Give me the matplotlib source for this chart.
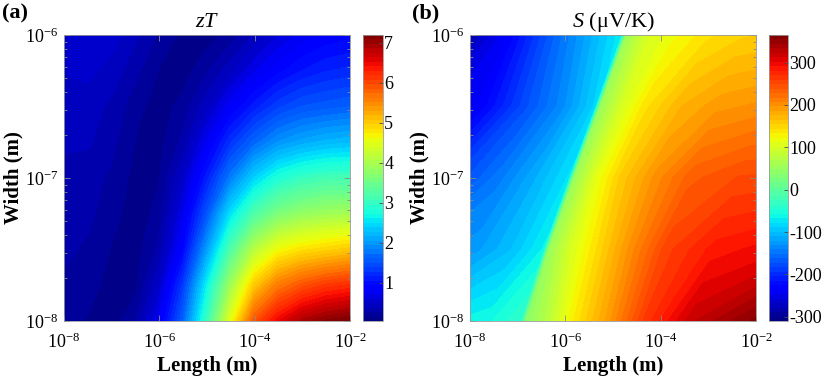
import numpy as np
import matplotlib
matplotlib.use('Agg')
import matplotlib.pyplot as plt
from matplotlib.ticker import FixedLocator, FuncFormatter

plt.rcParams['font.family'] = 'Liberation Serif'
plt.rcParams['mathtext.fontset'] = 'custom'
plt.rcParams['mathtext.rm'] = 'Liberation Serif'
plt.rcParams['mathtext.it'] = 'Liberation Serif:italic'
plt.rcParams['mathtext.bf'] = 'Liberation Serif:bold'
plt.rcParams['axes.unicode_minus'] = False

# ---- panel (a): zT (log10 of length / width in m) ----
zt_logL = [-8, -7.5, -7, -6.5, -6, -5.5, -5, -4.5, -4, -3.5, -3, -2.5, -2]
zt_logW = [-8, -7.75, -7.5, -7.25, -7, -6.75, -6.5, -6.25, -6]
zt_vals = [
    [0.20, 0.15, 0.10, 0.25, 0.75, 1.60, 3.00, 4.50, 5.90, 6.50, 6.90, 7.10, 7.20],
    [0.25, 0.20, 0.12, 0.12, 0.50, 1.30, 2.60, 3.90, 5.00, 5.60, 5.90, 6.10, 6.20],
    [0.30, 0.25, 0.15, 0.10, 0.30, 0.90, 2.00, 3.20, 4.10, 4.60, 4.80, 4.90, 5.00],
    [0.33, 0.30, 0.20, 0.10, 0.20, 0.70, 1.50, 2.50, 3.20, 3.60, 3.80, 3.90, 3.95],
    [0.35, 0.32, 0.25, 0.12, 0.15, 0.50, 1.10, 1.80, 2.40, 2.80, 3.00, 3.10, 3.10],
    [0.40, 0.40, 0.30, 0.15, 0.12, 0.30, 0.75, 1.25, 1.65, 1.95, 2.10, 2.20, 2.25],
    [0.45, 0.45, 0.35, 0.20, 0.10, 0.20, 0.45, 0.80, 1.10, 1.35, 1.50, 1.55, 1.60],
    [0.50, 0.52, 0.45, 0.30, 0.15, 0.10, 0.25, 0.45, 0.70, 0.90, 1.05, 1.15, 1.20],
    [0.55, 0.60, 0.55, 0.40, 0.25, 0.12, 0.10, 0.20, 0.40, 0.60, 0.75, 0.85, 0.90],
]
zt_range = (0.05, 7.2)
zt_ticks = [1, 2, 3, 4, 5, 6, 7]

# ---- panel (b): Seebeck coefficient, uV/K ----
# S flips sign along a slanted line; values are given at offsets (decades)
# from that line for each width row
s_logW = [-8, -7.5, -7, -6.5, -6]
s_edge = [-6.85, -6.38, -5.85, -5.30, -4.75]
s_offset = [-3.5, -2.5, -1.5, -0.75, -0.05, 0.05, 0.5, 1.0, 1.75, 2.5, 3.5, 5.0]
s_vals = [
    [-70, -70, -68, -60, -35, 40, 75, 130, 190, 260, 320, 362],
    [-150, -140, -125, -100, -65, 50, 100, 140, 200, 255, 285, 300],
    [-200, -185, -145, -110, -75, 50, 110, 155, 200, 235, 250, 255],
    [-255, -235, -175, -135, -85, 50, 100, 140, 175, 192, 200, 202],
    [-300, -240, -165, -115, -70, 55, 100, 118, 140, 152, 157, 158],
]
s_range = (-310, 365)
s_ticks = [-300, -200, -100, 0, 100, 200, 300]

fig = plt.figure(figsize=(8.3, 3.81), dpi=100)

ax1 = fig.add_axes([0.0771, 0.1575, 0.3446, 0.7507])
cax1 = fig.add_axes([0.4373, 0.1575, 0.0241, 0.7507])
ax2 = fig.add_axes([0.5663, 0.1575, 0.3446, 0.7507])
cax2 = fig.add_axes([0.9265, 0.1575, 0.0229, 0.7507])

lev1 = np.linspace(zt_range[0], zt_range[1], 65)
cf1 = ax1.contourf(zt_logL, zt_logW, np.array(zt_vals), levels=lev1, cmap='jet')

X = np.add.outer(s_edge, s_offset)
Y = np.repeat(np.array(s_logW)[:, None], len(s_offset), axis=1)
lev2 = np.linspace(s_range[0], s_range[1], 65)
cf2 = ax2.contourf(X, Y, np.array(s_vals), levels=lev2, cmap='jet')

for cf in (cf1, cf2):
    cf.set_edgecolor('face')


def pow10(v, pos):
    return r'$10^{%d}$' % round(v)


minor_y = [n + np.log10(k) for n in (-8, -7) for k in range(2, 10)]

for ax in (ax1, ax2):
    ax.set_xlim(-8, -2)
    ax.set_ylim(-8, -6)
    ax.xaxis.set_major_locator(FixedLocator([-8, -6, -4, -2]))
    ax.yaxis.set_major_locator(FixedLocator([-8, -7, -6]))
    ax.yaxis.set_minor_locator(FixedLocator(minor_y))
    ax.xaxis.set_major_formatter(FuncFormatter(pow10))
    ax.yaxis.set_major_formatter(FuncFormatter(pow10))
    ax.tick_params(which='both', direction='in', top=True, right=True,
                   color='0.55', width=0.6, labelsize=13)
    ax.tick_params(which='major', length=4)
    ax.tick_params(axis='x', which='major', pad=8)
    ax.tick_params(axis='y', which='major', pad=4)
    ax.tick_params(which='minor', length=2)
    for sp in ax.spines.values():
        sp.set_edgecolor('0.6')
        sp.set_linewidth(0.6)
    ax.set_xlabel('Length (m)', fontsize=15, fontweight='bold', labelpad=3)
    ax.set_ylabel('Width (m)', fontsize=15, fontweight='bold', labelpad=1)

ax1.set_title(r'$zT$', fontsize=16, pad=6)
ax2.set_title(r'$S$ ($\mathrm{\mu}$V/K)', fontsize=16, pad=6)

cb1 = fig.colorbar(cf1, cax=cax1, ticks=zt_ticks)
cb2 = fig.colorbar(cf2, cax=cax2, ticks=s_ticks)
for cb in (cb1, cb2):
    cb.outline.set_edgecolor('0.6')
    cb.outline.set_linewidth(0.6)
    cb.ax.tick_params(direction='in', length=3, color='0.3', width=0.6,
                      labelsize=13, pad=1)

fig.text(0.003, 0.99, '(a)', fontsize=16, fontweight='bold', va='top', ha='left')
fig.text(0.496, 0.99, '(b)', fontsize=16, fontweight='bold', va='top', ha='left')

fig.savefig('out.png', dpi=100)
